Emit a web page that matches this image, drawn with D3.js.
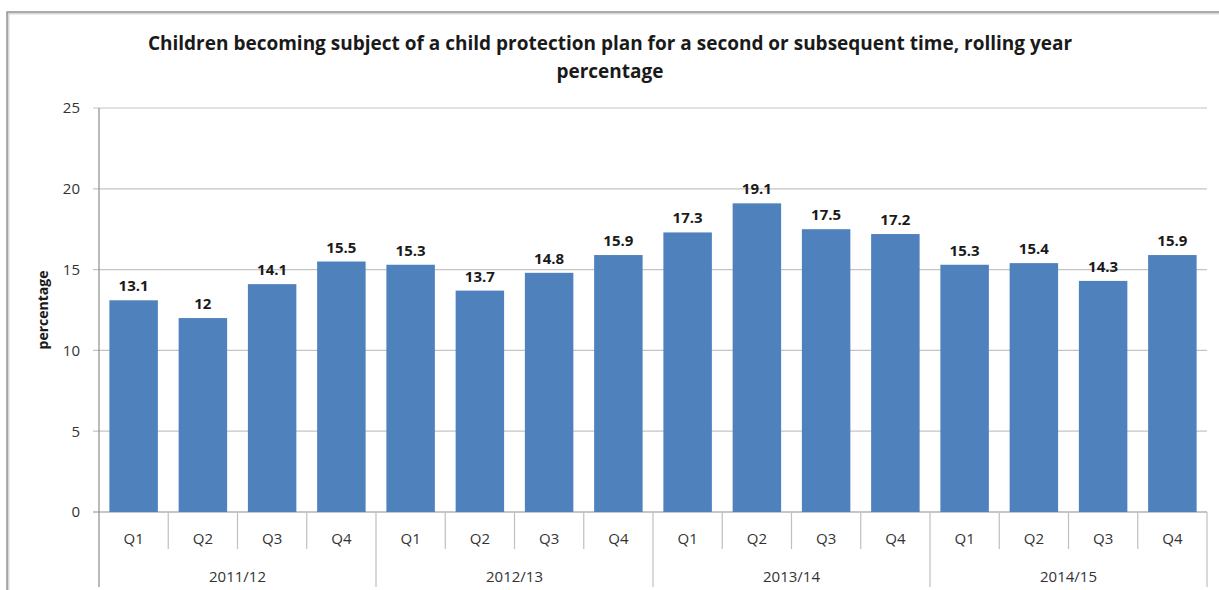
<!DOCTYPE html>
<html>
<head>
<meta charset="utf-8">
<script src="https://cdn.jsdelivr.net/npm/d3@7"></script>
<style>
  body { margin: 0; background: #fff; }
  text { font-family: "Open Sans", "Liberation Sans", sans-serif; }
</style>
</head>
<body>
<div id="chart"></div>
<script>
var years = ["2011/12", "2012/13", "2013/14", "2014/15"];
var quarters = ["Q1", "Q2", "Q3", "Q4"];
var values = [13.1, 12, 14.1, 15.5, 15.3, 13.7, 14.8, 15.9, 17.3, 19.1, 17.5, 17.2, 15.3, 15.4, 14.3, 15.9];
var yTicks = [0, 5, 10, 15, 20, 25];

var svgWidth = 1219;
var svgHeight = 590;

var margin = { top: 108, right: 12, bottom: 78, left: 99 };
var chartWidth = svgWidth - margin.left - margin.right;
var chartHeight = svgHeight - margin.top - margin.bottom;

var svg = d3.select("#chart").append("svg")
            .attr("width", svgWidth)
            .attr("height", svgHeight);

// outer frame (only top/left visible in the crop)
svg.append("rect")
   .attr("x", 8).attr("y", 13)
   .attr("width", 1240).attr("height", 640)
   .attr("fill", "none")
   .attr("stroke", "#d9d9d9")
   .attr("stroke-width", 3);
svg.append("rect")
   .attr("x", 7).attr("y", 12)
   .attr("width", 1240).attr("height", 640)
   .attr("fill", "none")
   .attr("stroke", "#858585")
   .attr("stroke-width", 1.2);

var title = svg.append("text")
   .attr("text-anchor", "middle")
   .attr("font-weight", "bold")
   .attr("font-size", "19px")
   .attr("fill", "#1a1a1a");
title.append("tspan").attr("x", 610).attr("y", 50)
     .text("Children becoming subject of a child protection plan for a second or subsequent time, rolling year");
title.append("tspan").attr("x", 610).attr("y", 78).text("percentage");

var chartGroup = svg.append("g")
                    .attr("transform", `translate(${margin.left}, ${margin.top})`);

var labels = [];
years.forEach(y => quarters.forEach(q => labels.push(y + " " + q)));

var xScale = d3.scaleBand()
               .domain(labels)
               .range([0, chartWidth])
               .paddingInner(0.3)
               .paddingOuter(0.15);

var yScale = d3.scaleLinear()
               .domain([0, 25])
               .range([chartHeight, 0]);

// gridlines
chartGroup.append("g").selectAll("line").data(yTicks).enter().append("line")
          .attr("x1", -6).attr("x2", chartWidth)
          .attr("y1", d => yScale(d)).attr("y2", d => yScale(d))
          .attr("stroke", d => d === 0 ? "#8c8c8c" : "#c4c4c4")
          .attr("stroke-width", 1.2);

var leftAxis = d3.axisLeft(yScale).tickValues(yTicks).tickSize(0).tickPadding(19);
var yAxisG = chartGroup.append("g")
          .style("font-size", "15px")
          .call(leftAxis);
yAxisG.select(".domain").remove();
yAxisG.selectAll("text").attr("fill", "#333").attr("font-family", "Open Sans, sans-serif");

// y axis line (extends through category area)
chartGroup.append("line")
          .attr("x1", 0).attr("x2", 0)
          .attr("y1", 0).attr("y2", chartHeight + 75)
          .attr("stroke", "#8c8c8c").attr("stroke-width", 1.2);

// bars
chartGroup.selectAll("rect.bar").data(values).enter().append("rect")
          .attr("class", "bar")
          .attr("x", (d, i) => xScale(labels[i]))
          .attr("y", d => yScale(d))
          .attr("width", xScale.bandwidth())
          .attr("height", d => chartHeight - yScale(d))
          .attr("fill", "#4f81bd");

chartGroup.selectAll("text.val").data(values).enter().append("text")
          .attr("class", "val")
          .attr("x", (d, i) => xScale(labels[i]) + xScale.bandwidth() / 2)
          .attr("y", d => yScale(d) - 9)
          .attr("text-anchor", "middle")
          .attr("font-size", "15px")
          .attr("font-weight", "bold")
          .attr("fill", "#1a1a1a")
          .text(d => d);

// category separators
var xOf = i => i * chartWidth / labels.length;
chartGroup.selectAll("line.qsep").data(d3.range(1, labels.length + 1)).enter().append("line")
          .attr("class", "qsep")
          .attr("x1", d => xOf(d)).attr("x2", d => xOf(d))
          .attr("y1", chartHeight)
          .attr("y2", d => d % 4 === 0 ? chartHeight + 75 : chartHeight + 37)
          .attr("stroke", "#bfbfbf").attr("stroke-width", 1.2);

chartGroup.selectAll("text.q").data(labels).enter().append("text")
          .attr("class", "q")
          .attr("x", (d, i) => xOf(i + 0.5))
          .attr("y", chartHeight + 32)
          .attr("text-anchor", "middle")
          .attr("font-size", "15px")
          .attr("fill", "#333")
          .text(d => d.split(" ")[1]);

chartGroup.selectAll("text.yr").data(years).enter().append("text")
          .attr("class", "yr")
          .attr("x", (d, i) => xOf(i * 4 + 2))
          .attr("y", chartHeight + 70)
          .attr("text-anchor", "middle")
          .attr("font-size", "15px")
          .attr("fill", "#333")
          .text(d => d);

chartGroup.append("text")
          .attr("transform", "rotate(-90)")
          .attr("x", -chartHeight / 2 + 0)
          .attr("y", -51)
          .attr("text-anchor", "middle")
          .attr("font-size", "14px")
          .attr("font-weight", "bold")
          .attr("fill", "#1a1a1a")
          .text("percentage");
</script>
</body>
</html>
